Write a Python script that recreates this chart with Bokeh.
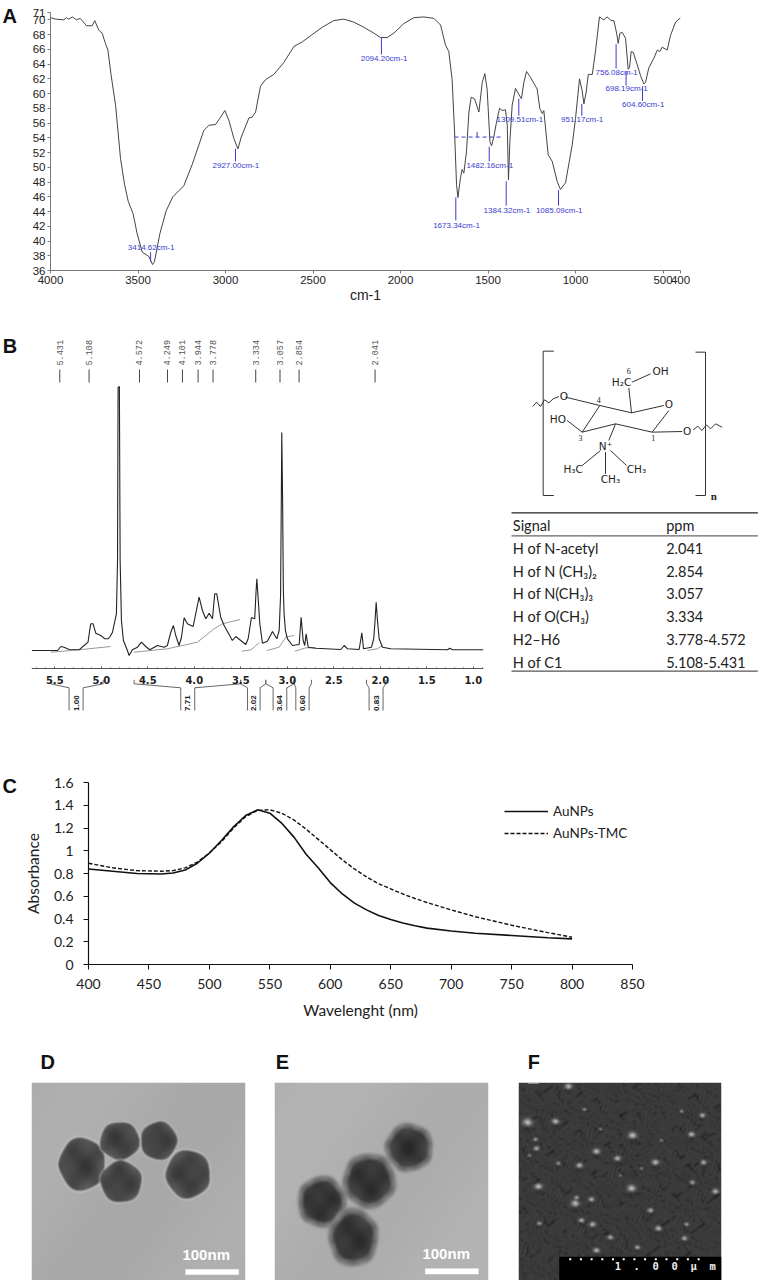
import math

import numpy as np
from bokeh.core.properties import value
from bokeh.embed import file_html
from bokeh.layouts import column, row
from bokeh.models import FixedTicker, NumeralTickFormatter, Range1d
from bokeh.plotting import figure
from bokeh.resources import INLINE

# A: FTIR spectrum
ir_wavenumber = [4000, 3971, 3924, 3910, 3895, 3875, 3852, 3830, 3794, 3762, 3747, 3724, 3705, 3686, 3672, 3653, 3628,
                 3600, 3577, 3556, 3528, 3505, 3476, 3438, 3417, 3406, 3375, 3339, 3301, 3238, 3190, 3124, 3095, 3057,
                 3028, 3004, 2981, 2952, 2929, 2910, 2866, 2848, 2828, 2800, 2771, 2724, 2667, 2609, 2562, 2505, 2447,
                 2381, 2324, 2267, 2210, 2152, 2114, 2076, 2038, 1981, 1924, 1867, 1809, 1771, 1743, 1724, 1705, 1691,
                 1680, 1672, 1657, 1648, 1638, 1623, 1609, 1596, 1577, 1552, 1533, 1518, 1505, 1489, 1480, 1467, 1453,
                 1434, 1419, 1400, 1390, 1383, 1375, 1362, 1343, 1324, 1309, 1295, 1280, 1257, 1219, 1204, 1190, 1181,
                 1156, 1133, 1105, 1086, 1057, 1019, 1000, 977, 962, 952, 939, 927, 904, 885, 863, 838, 819, 796, 781,
                 765, 756, 746, 733, 714, 699, 691, 682, 670, 647, 628, 609, 600, 581, 552, 533, 518, 505, 476, 457,
                 428, 400]
ir_transmittance = [70.3, 70.1, 70.0, 70.3, 70.1, 70.4, 70.0, 70.2, 69.2, 69.2, 69.9, 68.6, 68.2, 66.8, 65.9, 62.4, 58.4,
                    51.2, 47.7, 45.4, 43.7, 41.0, 38.5, 37.9, 36.8, 37.2, 41.0, 44.1, 46.0, 47.5, 50.4, 55.0, 55.7, 55.8,
                    56.8, 57.7, 56.4, 53.9, 52.5, 54.1, 56.7, 56.8, 57.5, 61.0, 61.9, 62.6, 64.2, 66.4, 67.0, 68.0, 69.0,
                    69.9, 70.1, 69.7, 69.0, 68.2, 67.6, 67.6, 68.2, 69.5, 70.3, 70.4, 70.2, 69.3, 66.6, 65.7, 61.9, 54.8,
                    47.7, 45.9, 48.6, 49.7, 49.2, 52.1, 57.5, 59.5, 59.3, 57.5, 61.5, 62.7, 60.6, 53.5, 52.9, 54.1, 55.9,
                    58.0, 57.7, 57.8, 55.7, 48.3, 53.5, 58.4, 60.7, 59.9, 59.3, 61.5, 63.0, 62.2, 60.6, 58.0, 57.3, 57.7,
                    51.7, 50.8, 48.1, 47.0, 47.9, 53.0, 56.6, 62.0, 60.4, 58.6, 60.2, 62.6, 62.6, 65.9, 70.4, 70.0, 70.4,
                    69.9, 69.9, 68.2, 66.8, 68.2, 68.3, 67.5, 63.3, 63.5, 65.7, 65.6, 63.9, 62.4, 61.3, 61.5, 63.5, 64.8,
                    65.9, 65.7, 66.3, 65.9, 67.9, 69.7, 70.3]
ir_ticks_x = [4000, 3500, 3000, 2500, 2000, 1500, 1000, 500, 400]
ir_ticks_y = [36, 38, 40, 42, 44, 46, 48, 50, 52, 54, 56, 58, 60, 62, 64, 66, 68, 70, 71]
ir_labels = ["3414.62cm-1", "2927.00cm-1", "2094.20cm-1", "1673.34cm-1", "1384.32cm-1", "1482.16cm-1", "1309.51cm-1",
             "1085.09cm-1", "951.17cm-1", "756.08cm-1", "698.19cm-1", "604.60cm-1"]
ir_label_x = [3425, 2941, 2094, 1680, 1392, 1490, 1318, 1093, 962, 765, 708, 613]
ir_label_y = [39.1, 50.3, 64.8, 42.1, 44.2, 50.3, 56.5, 44.2, 56.5, 62.9, 60.7, 58.5]
ir_stem_x = [3428, 2943, 2109, 1684, 1396, 1493, 1324, 1097, 964, 768, 711, 617]
ir_stem_top = [38.5, 52.5, 67.6, 45.9, 48.1, 52.8, 59.3, 46.9, 58.6, 66.7, 63.0, 61.0]
ir_stem_bottom = [37.2, 50.8, 65.3, 42.8, 44.8, 50.8, 57.0, 44.8, 57.0, 63.4, 61.1, 59.0]

# B: 1H NMR spectrum (relative intensity)
nmr_ppm = [5.747, 5.543, 5.47, 5.435, 5.40, 5.346, 5.238, 5.185, 5.142, 5.125, 5.113, 5.088, 5.059, 5.005, 4.962, 4.927,
           4.905, 4.88, 4.837, 4.825, 4.819, 4.805, 4.797, 4.783, 4.762, 4.726, 4.70, 4.665, 4.611, 4.568, 4.522, 4.478,
           4.396, 4.324, 4.289, 4.253, 4.224, 4.199, 4.163, 4.138, 4.109, 4.074, 4.012, 3.948, 3.912, 3.876, 3.84, 3.804,
           3.78, 3.758, 3.715, 3.679, 3.59, 3.554, 3.50, 3.446, 3.42, 3.385, 3.35, 3.335, 3.327, 3.315, 3.295, 3.267,
           3.213, 3.159, 3.112, 3.087, 3.072, 3.064, 3.059, 3.05, 3.042, 3.034, 3.02, 2.998, 2.944, 2.872, 2.851, 2.829,
           2.812, 2.797, 2.775, 2.693, 2.424, 2.388, 2.352, 2.227, 2.198, 2.18, 2.094, 2.07, 2.056, 2.044, 2.03, 2.012,
           1.976, 1.887, 1.277, 1.252, 1.224, 0.89]
nmr_intensity = [0, 0, 0, 4, 3.3, 1, 0.7, 5, 8.3, 20, 26.7, 26.7, 17.3, 15, 11.7, 11.7,
                 14, 18, 36.7, 90, 263, 264, 90, 30, 10, 1.7, -5, 0.7, 3.3, 8.3, 4, 0.7,
                 5, 3.3, 5, 18, 25, 15, 5, 13, 32.7, 26.7, 24, 53.3, 40, 31.7, 37.3, 31.7,
                 56.7, 56.7, 33, 25, 10, 14, 10, 6, 12, 33, 31.7, 60, 71.7, 55, 26.7, 7.3,
                 9.3, 19, 11.7, 20, 55, 150, 218, 150, 60, 36.7, 20, 11.7, 5, 6, 33.3, 10,
                 5, 16.7, 3.3, 2.3, 1, 5, 1.7, 1, 17.7, 1.7, 3.3, 12, 30, 48.3, 30, 11.7,
                 3.3, 1.7, 0.7, 2.3, 0.7, 0.7]
nmr_peak_labels = ["5.431", "5.108", "4.572", "4.249", "4.101", "3.944", "3.778", "3.334", "3.057", "2.854", "2.041"]
nmr_peak_ppm = [5.446, 5.131, 4.589, 4.288, 4.127, 3.959, 3.798, 3.339, 3.078, 2.873, 2.056]
nmr_ticks = [5.5, 5.0, 4.5, 4.0, 3.5, 3.0, 2.5, 2.0, 1.5, 1.0]
nmr_integral_ppm = [[5.54, 5.24, 4.90], [4.647, 4.289, 3.966, 3.787, 3.697, 3.507], [3.49, 3.39, 3.30],
                    [3.22, 3.087, 3.016, 2.926], [2.919, 2.80, 2.693], [2.138, 2.03, 1.976]]
nmr_integral_value = [[-1.7, 0.7, 4], [-1.7, 1.7, 8.3, 21.7, 26.7, 31], [-0.7, 0.7, 8],
                      [0, 3.3, 13.3, 15], [-0.7, 2.7, 2.7], [0, 1.7, 5]]
area_labels = ["1.00", "7.71", "2.02", "3.64", "0.60", "0.83"]
area_left = [5.543, 4.647, 3.5, 3.231, 2.926, 2.148]
area_box_left = [5.346, 4.145, 3.428, 3.152, 2.908, 2.12]
area_box_right = [5.195, 3.995, 3.292, 3.005, 2.765, 1.97]
area_right = [4.98, 3.5, 3.231, 2.926, 2.74, 1.94]

# B: assignment table
table_signals = ["H of N-acetyl", "H of N (CH₃)₂", "H of N(CH₃)₃", "H of O(CH₃)", "H2–H6", "H of C1"]
table_ppm = ["2.041", "2.854", "3.057", "3.334", "3.778-4.572", "5.108-5.431"]

# C: UV-vis absorbance
uv_nm = [400, 420, 440, 460, 470, 480, 490, 500, 510, 520, 530, 540, 550, 560, 570, 580, 590, 600, 610, 620, 630, 640,
         650, 660, 670, 680, 700, 720, 750, 780, 800]
uv_aunps = [0.84, 0.82, 0.80, 0.795, 0.805, 0.83, 0.89, 0.98, 1.09, 1.21, 1.31, 1.36, 1.33, 1.24, 1.12, 0.97, 0.85, 0.72,
            0.62, 0.54, 0.48, 0.43, 0.395, 0.365, 0.34, 0.32, 0.295, 0.275, 0.255, 0.235, 0.225]
uv_tmc = [0.89, 0.85, 0.825, 0.82, 0.825, 0.85, 0.90, 0.98, 1.08, 1.20, 1.30, 1.355, 1.36, 1.33, 1.27, 1.19, 1.10, 1.01,
          0.92, 0.84, 0.77, 0.71, 0.665, 0.62, 0.58, 0.545, 0.48, 0.42, 0.345, 0.28, 0.24]
uv_ticks_x = [400, 450, 500, 550, 600, 650, 700, 750, 800, 850]
uv_ticks_y = [0, 0.2, 0.4, 0.6, 0.8, 1, 1.2, 1.4, 1.6]

# D, E: particles in the micrographs (centre x, centre y, radius x, radius y)
tem_d = [(50.7, 81.7, 23.3, 26.7), (88.3, 58.3, 20, 19), (127.3, 58.3, 18.3, 19.3), (89.7, 99.3, 20.7, 21),
         (156.7, 91.7, 22.3, 24.3)]
tem_e = [(134.7, 65, 24, 24.3), (94.7, 98.3, 26.7, 27.7), (47.3, 119.3, 24.3, 26), (79, 155, 25, 29.3)]
# F: bright spots (x, y, radius)
sem_spots = [(50, 4, 3.3), (9, 40, 4.6), (37, 39, 3.3), (17, 57, 2), (18, 66, 2.6), (11, 73, 1.3), (40, 81, 2),
             (61, 83, 3), (78, 69, 3.3), (99, 76, 3), (114, 53, 4), (137, 80, 3.3), (173, 52, 3), (185, 80, 2.6),
             (184, 33, 2.6), (20, 104, 3.6), (57, 121, 4), (73, 117, 2.6), (113, 106, 4), (132, 128, 2.6), (174, 100, 2.3),
             (197, 109, 3), (63, 138, 2.6), (74, 142, 3), (21, 141, 2), (92, 155, 2.6), (78, 168, 3), (119, 165, 2.3),
             (140, 146, 3), (166, 156, 2.6), (168, 142, 2), (66, 27, 1.6), (82, 47, 1.3), (123, 86, 1.3), (143, 58, 1.3),
             (102, 93, 1.3), (163, 29, 1.6), (58, 115, 2)]

AXIS_FONT = "Liberation Sans"
SOFT_FONT = "Lato"
BLUE = "#3a3ad0"


def panel(width, height, x_range, y_range, left=0, right=0, top=0, bottom=0):
    p = figure(width=width, height=height, x_range=x_range, y_range=y_range, output_backend="svg",
               toolbar_location=None, min_border_left=left, min_border_right=right, min_border_top=top,
               min_border_bottom=bottom, frame_align=False)
    p.grid.visible = False
    p.outline_line_color = None
    return p


def letter(p, text, x, y):
    # panel letters sit outside the frame, so they go on a level that is not clipped
    p.text([x], [y], text=[text], text_font=value(AXIS_FONT), text_font_size="20px", text_font_style="bold",
           text_color="#111111", text_baseline="middle", level="annotation")


def to_rgba(gray):
    g = np.clip(gray, 0, 255).astype(np.uint32)
    return (255 << 24) | (g << 16) | (g << 8) | g


def grid(w, h):
    return np.meshgrid(np.arange(w) + 0.5, np.arange(h) + 0.5)


def soften(img):
    out = img.copy()
    for dx, dy in [(1, 0), (-1, 0), (0, 1), (0, -1)]:
        out += np.roll(np.roll(img, dx, axis=1), dy, axis=0)
    return out / 5


def micrograph(particles, w, h, bg, shell):
    xx, yy = grid(w, h)
    img = bg + 4 * np.sin(xx / 41 + yy / 57)
    for i, (cx, cy, rx, ry) in enumerate(particles):
        ang = np.arctan2(yy - cy, xx - cx)
        d = np.hypot((xx - cx) / rx, (yy - cy) / ry) * (1 + 0.03 * np.cos(5 * ang + i * 1.7))
        tone = 60 + 26 * d**2 + 9 * np.sin(xx / 5 + i) * np.sin(yy / 6 - i)
        if shell:
            halo = 92 + (d - 0.78) * 200 + 7 * np.sin(ang * 9 + i)
            tone = np.where(d < 0.78, tone - 12, halo)
            cover = np.clip((1.06 - d) / 0.08, 0, 1)
        else:
            rim = np.exp(-(((d - 1.03) / 0.025) ** 2))
            img = img + rim * (208 - img) * 0.8
            cover = np.clip((1.0 - d) / 0.03, 0, 1)
        img = img * (1 - cover) + tone * cover
    return to_rgba(np.flipud(soften(soften(img)) if shell else soften(img)))


def sem_image(spots, w, h):
    xx, yy = grid(w, h)
    warp = 2.5 * np.sin(xx * 0.13 + yy * 0.07) + 2 * np.sin(yy * 0.19 - xx * 0.05)
    grain = np.sin(xx * 2.3 + warp) * np.sin(yy * 1.9 - warp)
    grain += 0.8 * np.sin(xx * 1.1 + yy * 3.7 + 2 * warp) * np.sin(xx * 3.3 - yy * 0.7 - warp)
    cracks = np.sin(xx * 0.41 + warp) * np.sin(yy * 0.53 - warp)
    img = 60 + 24 * grain - 26 * (np.abs(cracks) < 0.045)
    for sx, sy, r in spots:
        img -= 18 * np.exp(-(np.hypot(xx - sx, yy - sy - r) / r) ** 2)
        img += 150 * np.exp(-(np.hypot((xx - sx) / 1.25, yy - sy) / (0.75 * r)) ** 2)
    return to_rgba(np.flipud(soften(img)))


# ---- A ----
a = panel(761, 305, Range1d(4000, 400), Range1d(36, 71), left=50, right=81, top=12, bottom=31)
a.line(ir_wavenumber, ir_transmittance, line_color="#444444", line_width=1)
a.segment(ir_stem_x, ir_stem_top, ir_stem_x, ir_stem_bottom, line_color=BLUE, line_width=1)
a.segment(1691, 54.1, 1428, 54.1, line_color=BLUE, line_width=1, line_dash="4 3")
a.segment(1562, 54.1, 1562, 54.8, line_color=BLUE, line_width=1)
a.text(ir_label_x, ir_label_y, text=ir_labels, text_font=value(AXIS_FONT), text_font_size="8px", text_color=BLUE,
       text_align="center", text_baseline="middle")
a.xaxis.ticker = FixedTicker(ticks=ir_ticks_x)
a.yaxis.ticker = FixedTicker(ticks=ir_ticks_y)
a.xaxis.axis_label = "cm-1"
a.xaxis.axis_label_text_font = AXIS_FONT
a.xaxis.axis_label_text_font_style = "normal"
a.xaxis.axis_label_text_font_size = "14px"
a.xaxis.axis_label_text_color = "#222222"
a.xaxis.axis_label_standoff = 0
for ax in (a.xaxis[0], a.yaxis[0]):
    ax.major_label_text_font = AXIS_FONT
    ax.major_label_text_font_size = "11.5px"
    ax.major_label_text_color = "#222222"
    ax.major_label_standoff = 2
    ax.axis_line_color = "#777777"
    ax.major_tick_line_color = "#777777"
    ax.major_tick_out = 3
    ax.major_tick_in = 0
    ax.minor_tick_line_color = None
letter(a, "A", 4275, 70.56)

# ---- B, spectrum ----
b = panel(490, 410, Range1d(5.75, 0.89), Range1d(-62, 315), left=31, right=7, top=30, bottom=3)
for xs, ys in zip(nmr_integral_ppm, nmr_integral_value):
    b.line(xs, ys, line_color="#999999", line_width=1)
b.line(nmr_ppm, nmr_intensity, line_color="#222222", line_width=1.1)
b.segment(nmr_peak_ppm, 268, nmr_peak_ppm, 281, line_color="#444444", line_width=1)
b.text(nmr_peak_ppm, 285, text=nmr_peak_labels, angle=math.pi / 2, text_font=value("Liberation Mono"),
       text_font_size="8.5px", text_color="#555555", text_align="left", text_baseline="middle")
for l, bl, br, r in zip(area_left, area_box_left, area_box_right, area_right):
    b.line([l, l, bl, bl], [-29.3, -33.3, -37.3, -60], line_color="#666666", line_width=1)
    b.line([br, br, r, r], [-60, -37.3, -33.3, -29.3], line_color="#666666", line_width=1)
b.text([(x + y) / 2 for x, y in zip(area_box_left, area_box_right)], -52.7, text=area_labels, angle=math.pi / 2,
       text_font=value("Liberation Sans"), text_font_size="8px", text_font_style="bold", text_color="#222222",
       text_align="center", text_baseline="middle")
b.yaxis.visible = False
b.xaxis.fixed_location = -18
b.xaxis.ticker = FixedTicker(ticks=nmr_ticks, minor_ticks=[x / 10 for x in range(9, 58)])
b.xaxis.formatter = NumeralTickFormatter(format="0.0")
b.xaxis.major_label_text_font = "DejaVu Sans"
b.xaxis.major_label_text_font_style = "bold"
b.xaxis.major_label_text_font_size = "10px"
b.xaxis.major_label_text_color = "#222222"
b.xaxis.major_label_standoff = 7
b.xaxis.axis_line_color = "#555555"
b.xaxis.major_tick_line_color = "#555555"
b.xaxis.minor_tick_line_color = "#555555"
b.xaxis.major_tick_in = 2
b.xaxis.major_tick_out = 0
b.xaxis.minor_tick_in = 1
b.xaxis.minor_tick_out = 0
letter(b, "B", 6.06, 304.5)

# ---- B, structure and table (drawn on a plain 1/3 px grid) ----
s = panel(271, 410, Range1d(-30, 783), Range1d(1155, -75))
s.axis.visible = False
BOND = "#333333"
bonds_x = [[160, 128, 128, 160], [585, 615, 615, 585],
           [97, 108, 120, 132, 145, 158, 175], [578, 592, 604, 618, 630, 645, 665],
           [195, 298], [298, 393], [393, 490], [505, 455], [298, 245], [245, 345], [345, 455], [455, 545], [200, 245],
           [393, 385], [395, 450], [345, 325], [300, 245], [330, 378], [315, 315]]
bonds_y = [[62, 62, 495, 495], [65, 65, 495, 495],
           [228, 215, 228, 208, 217, 205, 198], [298, 287, 300, 283, 295, 280, 290],
           [200, 225], [225, 247], [247, 225], [240, 305], [225, 305], [305, 280], [280, 305], [305, 303], [270, 305],
           [247, 172], [155, 130], [280, 330], [360, 405], [360, 405], [365, 430]]
s.multi_line(bonds_x, bonds_y, line_color=BOND, line_width=1)
atom_x = [190, 363, 480, 505, 172, 560, 315, 218, 408, 330]
atom_y = [195, 155, 120, 220, 265, 302, 345, 415, 415, 445]
atom_text = ["O", "H₂C", "OH", "O", "HO", "O", "N⁺", "H₃C", "CH₃", "CH₃"]
s.text(atom_x, atom_y, text=atom_text, text_font=value("DejaVu Sans"), text_font_size="10.5px", text_color="#222222",
       text_align="center", text_baseline="middle")
s.text([385, 295, 240, 458], [120, 208, 322, 322], text=["6", "4", "3", "1"], text_font=value("Liberation Serif"),
       text_font_size="8px", text_color="#222222", text_align="center", text_baseline="middle")
s.text([640], [495], text=["n"], text_font=value("Liberation Serif"), text_font_size="11px", text_font_style="bold",
       text_color="#222222", text_align="center", text_baseline="middle")
s.segment(33, 547, 772, 547, line_color="#222222", line_width=1.2)
s.segment(33, 616, 772, 616, line_color="#666666", line_width=1.2)
s.segment(33, 1022, 772, 1022, line_color="#555555", line_width=1.2)
rows_y = [653, 722, 790, 858, 926, 995]
s.text([37, 497], [585, 585], text=["Signal", "ppm"], text_font=value(SOFT_FONT), text_font_size="14.5px",
       text_color="#222222", text_baseline="middle")
s.text(37, rows_y, text=table_signals, text_font=value(SOFT_FONT), text_font_size="14.5px", text_color="#222222",
       text_baseline="middle")
s.text(497, rows_y, text=table_ppm, text_font=value(SOFT_FONT), text_font_size="14.5px", text_color="#222222",
       text_baseline="middle")

# ---- C ----
c = panel(761, 367, Range1d(400, 850), Range1d(0, 1.6), left=88, right=129, top=67, bottom=118)
c.line(uv_nm, uv_aunps, line_color="#111111", line_width=1.6, legend_label="AuNPs")
c.line(uv_nm, uv_tmc, line_color="#111111", line_width=1.4, line_dash="4 2", legend_label="AuNPs-TMC")
c.xaxis.ticker = FixedTicker(ticks=uv_ticks_x)
c.yaxis.ticker = FixedTicker(ticks=uv_ticks_y)
c.yaxis.major_label_overrides = {1: "1", 0: "0"}
c.xaxis.axis_label = "Wavelenght (nm)"
c.yaxis.axis_label = "Absorbance"
for ax in (c.xaxis[0], c.yaxis[0]):
    ax.major_label_text_font = SOFT_FONT
    ax.major_label_text_font_size = "14px"
    ax.major_label_text_color = "#222222"
    ax.axis_label_text_font = SOFT_FONT
    ax.axis_label_text_font_style = "normal"
    ax.axis_label_text_font_size = "15.5px"
    ax.axis_label_text_color = "#222222"
    ax.axis_line_color = "#111111"
    ax.axis_line_width = 1.2
    ax.major_tick_line_color = "#111111"
    ax.major_tick_out = 5
    ax.major_tick_in = 0
    ax.minor_tick_line_color = None
c.xaxis.major_label_standoff = 9
c.xaxis.axis_label_standoff = 9
c.yaxis.major_label_standoff = 10
c.yaxis.axis_label_standoff = 9
c.legend.location = (416, 123)
c.legend.border_line_color = None
c.legend.background_fill_alpha = 0
c.legend.padding = 0
c.legend.margin = 0
c.legend.spacing = 6
c.legend.glyph_width = 44
c.legend.glyph_height = 16
c.legend.label_height = 16
c.legend.label_standoff = 5
c.legend.label_text_font = SOFT_FONT
c.legend.label_text_font_size = "13.5px"
c.legend.label_text_color = "#222222"
letter(c, "C", 328.8, 1.566)
letter(c, "D", 360.3, -0.86)
letter(c, "E", 554.8, -0.86)
letter(c, "F", 763.4, -0.86)

# ---- D, E, F ----
H = 198
d = panel(260, H, Range1d(0, 214), Range1d(0, H), left=31, right=15)
d.axis.visible = False
d.image_rgba(image=[micrograph(tem_d, 214, H, 172, False)], x=0, y=0, dw=214, dh=H)
d.quad(left=154, right=207.3, top=H - 186.7, bottom=H - 192.3, fill_color="white", line_color=None)
d.text([174.7], [H - 171.7], text=["100nm"], text_font=value(AXIS_FONT), text_font_style="bold", text_font_size="15px",
       text_color="white", text_align="center", text_baseline="middle")

e = panel(245, H, Range1d(0, 214), Range1d(0, H), left=14, right=17)
e.axis.visible = False
e.image_rgba(image=[micrograph(tem_e, 214, H, 176, True)], x=0, y=0, dw=214, dh=H)
e.quad(left=150.7, right=204, top=H - 186, bottom=H - 191.7, fill_color="white", line_color=None)
e.text([171.7], [H - 171], text=["100nm"], text_font=value(AXIS_FONT), text_font_style="bold", text_font_size="15px",
       text_color="white", text_align="center", text_baseline="middle")

f = panel(256, H, Range1d(0, 203), Range1d(0, H), left=13, right=40)
f.axis.visible = False
f.image_rgba(image=[sem_image(sem_spots, 203, H)], x=0, y=0, dw=203, dh=H)
f.quad(left=40.7, right=203, top=H - 174.3, bottom=0, fill_color="black", line_color=None)
f.quad(left=9.3, right=20, top=H, bottom=H - 1, fill_color="#dddddd", line_color=None)
f.scatter([51.7 + 10.7 * i for i in range(13)], H - 176.7, size=2, marker="square", fill_color="white", line_color=None)
f.text([146.7], [H - 183.3], text=["1\u00a0\u00a0.\u00a0\u00a00\u00a0\u00a00\u00a0\u00a0µ\u00a0\u00a0m"],
       text_font=value("DejaVu Sans Mono"), text_font_style="bold", text_font_size="10.5px", text_color="#eeeeee",
       text_align="center", text_baseline="middle")

layout = column(a, row(b, s), c, row(d, e, f))

open("out.html", "w").write(file_html(layout, INLINE))
